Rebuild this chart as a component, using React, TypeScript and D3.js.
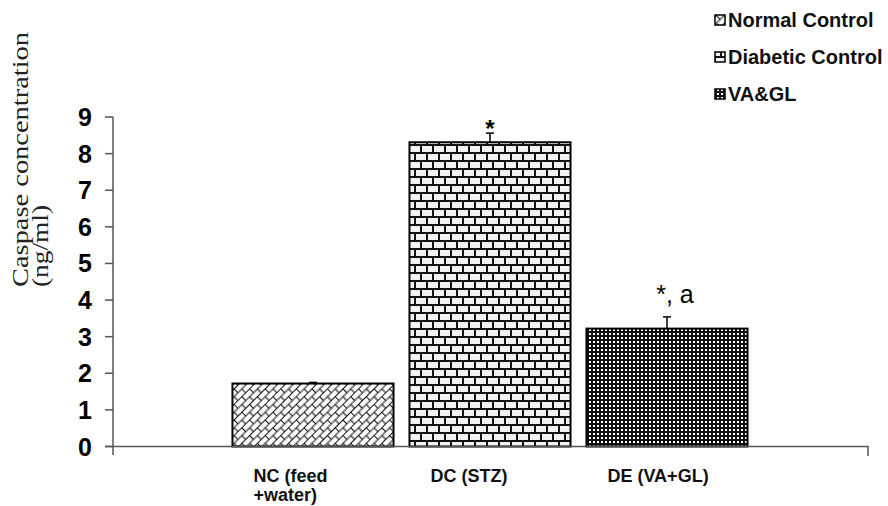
import { useEffect, useRef } from "react";
import * as d3 from "d3";

// values
const categories = ["NC (feed\n+water)", "DC (STZ)", "DE (VA+GL)"];
const means = [1.72, 8.31, 3.22];
const errors = [0.03, 0.25, 0.32];
const annotations = ["", "*", "*, a"];
const legendLabels = ["Normal Control", "Diabetic Control", "VA&GL"];
const patternIds = ["pNC", "pDC", "pDE"];
const yTicks = [0, 1, 2, 3, 4, 5, 6, 7, 8, 9];

const W = 888,
  H = 506;

const App = () => {
  const ref = useRef<SVGSVGElement>(null);

  useEffect(() => {
    document.body.style.margin = "0";
    const svg = d3.select(ref.current);
    svg.selectAll("*").remove();
    svg.attr("width", W).attr("height", H);

    const axisX0 = 113,
      axisX1 = 868,
      axisY = 446.5;

    const x = d3
      .scaleBand<string>()
      .domain(categories)
      .range([224.5, 755.5])
      .paddingInner(0.09)
      .paddingOuter(0.045);
    const y = d3.scaleLinear().domain([0, 9]).range([446.5, 117]);

    /*** patterns ***/
    const defs = svg.append("defs");

    // diagonal brick
    const p1 = defs
      .append("pattern")
      .attr("id", "pNC")
      .attr("patternUnits", "userSpaceOnUse")
      .attr("width", 11)
      .attr("height", 11)
      .attr("patternTransform", "rotate(-45)");
    p1.append("rect").attr("width", 11).attr("height", 11).attr("fill", "#fff");
    p1.append("path")
      .attr("d", "M0,0.5H11M0,6H11M0.5,0V6M6,6V11")
      .attr("stroke", "#111")
      .attr("stroke-width", 1.1)
      .attr("fill", "none");

    // horizontal brick
    const p2 = defs
      .append("pattern")
      .attr("id", "pDC")
      .attr("patternUnits", "userSpaceOnUse")
      .attr("width", 12)
      .attr("height", 16);
    p2.append("rect").attr("width", 12).attr("height", 16).attr("fill", "#f2f2f2");
    p2.append("path")
      .attr("d", "M0,1H12M0,9H12M1,1V9M7,9V17")
      .attr("stroke", "#111")
      .attr("stroke-width", 2)
      .attr("fill", "none");

    // small checker
    const p3 = defs
      .append("pattern")
      .attr("id", "pDE")
      .attr("patternUnits", "userSpaceOnUse")
      .attr("width", 4)
      .attr("height", 4);
    p3.append("rect").attr("width", 4).attr("height", 4).attr("fill", "#111");
    p3.append("rect").attr("x", 1).attr("y", 1).attr("width", 2).attr("height", 2).attr("fill", "#fff");

    /*** bars ***/
    svg
      .selectAll(".bar")
      .data(categories)
      .enter()
      .append("rect")
      .attr("x", (d) => x(d) ?? 0)
      .attr("y", (_, i) => y(means[i]))
      .attr("width", x.bandwidth())
      .attr("height", (_, i) => y(0) - y(means[i]))
      .attr("fill", (_, i) => `url(#${patternIds[i]})`)
      .attr("stroke", "#000")
      .attr("stroke-width", 2);

    /*** error bars (upper only) ***/
    categories.forEach((c, i) => {
      const cx = (x(c) ?? 0) + x.bandwidth() / 2;
      const g = svg.append("g").attr("stroke", "#000").attr("stroke-width", 1.5);
      g.append("line")
        .attr("x1", cx)
        .attr("x2", cx)
        .attr("y1", y(means[i]))
        .attr("y2", y(means[i] + errors[i]));
      g.append("line")
        .attr("x1", cx - 4)
        .attr("x2", cx + 4)
        .attr("y1", y(means[i] + errors[i]))
        .attr("y2", y(means[i] + errors[i]));
    });

    /*** significance marks ***/
    const annDy = [0, 4, -14];
    const annSize = [0, 24, 25];
    const annWeight = ["normal", "bold", "normal"];
    categories.forEach((c, i) => {
      if (!annotations[i]) return;
      svg
        .append("text")
        .attr("x", (x(c) ?? 0) + x.bandwidth() / 2 + (i === 2 ? 8 : 0))
        .attr("y", y(means[i] + errors[i]) + annDy[i])
        .attr("text-anchor", "middle")
        .style("font-family", "Liberation Sans, Arial, sans-serif")
        .style("font-size", `${annSize[i]}px`)
        .style("font-weight", annWeight[i])
        .text(annotations[i]);
    });

    /*** axes ***/
    const ax = svg.append("g").attr("stroke", "#555").attr("stroke-width", 1.5).attr("fill", "none");
    ax.append("path").attr("d", `M${axisX0},${y(9)}V455M${axisX0 - 8},${axisY}H${axisX1}V456`);
    yTicks.forEach((t) => {
      ax.append("line")
        .attr("x1", axisX0 - 8)
        .attr("x2", axisX0)
        .attr("y1", y(t))
        .attr("y2", y(t));
    });

    svg
      .append("g")
      .selectAll("text")
      .data(yTicks)
      .enter()
      .append("text")
      .attr("x", 92)
      .attr("y", (d) => y(d))
      .attr("dy", "0.36em")
      .attr("text-anchor", "end")
      .style("font-family", "Liberation Sans, Arial, sans-serif")
      .style("font-size", "25px")
      .style("font-weight", "bold")
      .text((d) => d);

    // category labels
    categories.forEach((c) => {
      const t = svg
        .append("text")
        .attr("x", (x(c) ?? 0) + 21)
        .attr("y", 482)
        .style("font-family", "Liberation Sans, Arial, sans-serif")
        .style("font-size", "18px")
        .style("font-weight", "bold")
        .attr("fill", "#111");
      c.split("\n").forEach((line, k) => {
        t.append("tspan")
          .attr("x", (x(c) ?? 0) + 21)
          .attr("dy", k === 0 ? 0 : 19)
          .text(line);
      });
    });

    // y title (source is stretched vertically)
    const yt = svg
      .append("text")
      .attr("transform", "translate(28,287) rotate(-90)")
      .style("font-family", "Liberation Serif, Times New Roman, serif")
      .style("font-size", "23px")
      .attr("fill", "#222");
    yt.append("tspan")
      .attr("x", 0)
      .attr("y", 0)
      .attr("textLength", 255)
      .attr("lengthAdjust", "spacingAndGlyphs")
      .text("Caspase concentration");
    yt.append("tspan")
      .attr("x", 0)
      .attr("y", 20)
      .attr("textLength", 82)
      .attr("lengthAdjust", "spacingAndGlyphs")
      .text("(ng/ml)");

    /*** legend ***/
    const leg = svg.append("g");
    legendLabels.forEach((l, i) => {
      const ly = 20 + i * 37;
      leg.append("rect")
        .attr("x", 715)
        .attr("y", ly - 5)
        .attr("width", 10)
        .attr("height", 10)
        .attr("fill", `url(#${patternIds[i]})`)
        .attr("stroke", "#000")
        .attr("stroke-width", 1.5);
      leg.append("text")
        .attr("x", 728)
        .attr("y", ly)
        .attr("dy", "0.36em")
        .style("font-family", "Liberation Sans, Arial, sans-serif")
        .style("font-size", "20px")
        .style("font-weight", "bold")
        .attr("fill", "#111")
        .text(l);
    });
  }, []);

  return <svg ref={ref} style={{ display: "block" }} />;
};

export default App;
